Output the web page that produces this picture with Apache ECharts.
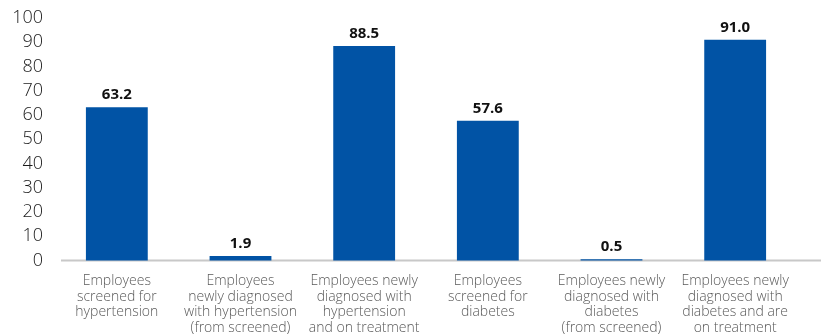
<!DOCTYPE html>
<html>
<head>
<meta charset="utf-8">
<script src="https://cdn.jsdelivr.net/npm/echarts@6/dist/echarts.min.js"></script>
<style>
  html, body { margin: 0; padding: 0; background: #ffffff; }
  #chart { width: 821px; height: 336px; }
</style>
</head>
<body>
<div id="chart"></div>
<script>
// Screening and diagnosis percentages
const categories = [
  'Employees\nscreened for\nhypertension',
  'Employees\nnewly diagnosed\nwith hypertension\n(from screened)',
  'Employees newly\ndiagnosed with\nhypertension\nand on treatment',
  'Employees\nscreened for\ndiabetes',
  'Employees newly\ndiagnosed with\ndiabetes\n(from screened)',
  'Employees newly\ndiagnosed with\ndiabetes and are\non treatment'
];
const values = [63.2, 1.9, 88.5, 57.6, 0.5, 91.0];
const yTicks = { min: 0, max: 100, interval: 10 };

const chart = echarts.init(document.getElementById('chart'), null, { renderer: 'canvas' });

const gridLeft = 55, gridTop = 18, gridBottom = 75.5, gridWidth = 742;

chart.setOption({
  animation: false,
  grid: { left: gridLeft, top: gridTop, width: gridWidth, bottom: gridBottom, containLabel: false },
  xAxis: {
    type: 'category',
    data: categories,
    axisLine: { show: false },
    axisTick: { show: false },
    axisLabel: {
      interval: 0,
      color: '#5a5a5a',
      fontFamily: 'Open Sans',
      fontWeight: 300,
      fontSize: 14,
      lineHeight: 15.5,
      margin: 13
    }
  },
  yAxis: {
    type: 'value',
    min: yTicks.min,
    max: yTicks.max,
    interval: yTicks.interval,
    splitLine: { show: false },
    axisLine: { show: false },
    axisTick: { show: false },
    axisLabel: {
      color: '#1a1a1a',
      fontFamily: 'Open Sans',
      fontWeight: 300,
      fontSize: 18,
      margin: 12
    }
  },
  series: [{
    type: 'bar',
    data: values,
    barWidth: '50%',
    itemStyle: { color: '#0153a5' },
    label: {
      show: true,
      position: 'top',
      distance: 5,
      color: '#111111',
      fontFamily: 'Open Sans',
      fontWeight: 'bold',
      fontSize: 15,
      formatter: p => p.value.toFixed(1)
    }
  }],
  // baseline rule running under the bars to the right edge
  graphic: [{
    type: 'line',
    shape: { x1: 61, y1: 0, x2: 821, y2: 0 },
    y: 336 - gridBottom,
    style: { stroke: '#c8c8c8', lineWidth: 2 },
    z: 0
  }]
});
</script>
</body>
</html>
